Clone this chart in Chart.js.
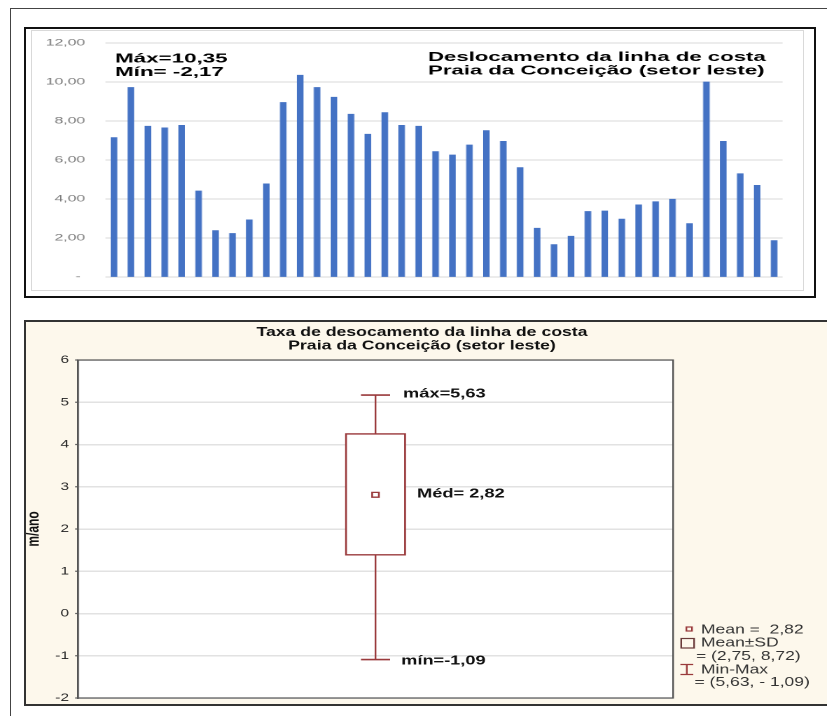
<!DOCTYPE html>
<html>
<head>
<meta charset="utf-8">
<script src="https://cdn.jsdelivr.net/npm/chart.js@4.4.1/dist/chart.umd.min.js"></script>
<style>
  html, body { margin:0; padding:0; }
  body { width:827px; height:716px; overflow:hidden; background:#fff; position:relative; font-family:"Liberation Sans", Arial, sans-serif; }
  #outer { position:absolute; left:10px; top:8px; width:840px; height:730px; border-left:1.6px solid #444; border-top:1.6px solid #444; }
  #topFrame { position:absolute; left:24px; top:27px; width:788px; height:267px; border:2.3px solid #111; background:#fff; }
  #topInner { position:absolute; left:31px; top:30px; width:771px; height:259px; border:1px solid #D9D9D9; background:#fff; }
  #c1 { position:absolute; left:32px; top:31px; transform:scaleX(1.7483); transform-origin:0 0; }
  #botFrame { position:absolute; left:24px; top:320px; width:830px; height:382px; border:2px solid #333; background:#FDF8EC; }
  #c2 { position:absolute; left:26px; top:322px; transform:scaleX(1.4003); transform-origin:0 0; }
</style>
</head>
<body>
<div id="outer"></div>
<div id="topFrame"></div>
<div id="topInner"></div>
<canvas id="c1" width="441" height="259"></canvas>
<div id="botFrame"></div>
<canvas id="c2" width="572" height="382"></canvas>
<script>
// ---------- Top chart data ----------
const profiles = ['1','2','3','4','5','6','7','8','9','10','11','12','13','14','15','16','17','18','19','20',
                  '21','22','23','24','25','26','27','28','29','30','31','32','33','34','35','36','37','38','39','40'];
const shorelineShift = [7.15, 9.72, 7.73, 7.65, 7.78, 4.41, 2.38, 2.23, 2.93, 4.78,
                        8.95, 10.35, 9.72, 9.22, 8.35, 7.32, 8.43, 7.78, 7.73, 6.43,
                        6.26, 6.77, 7.51, 6.96, 5.61, 2.50, 1.66, 2.09, 3.36, 3.39,
                        2.97, 3.70, 3.86, 3.99, 2.74, 10.00, 6.96, 5.30, 4.70, 1.87];
const topTickValues = [0, 2, 4, 6, 8, 10, 12];
const topTickLabels = ['- ', '2,00', '4,00', '6,00', '8,00', '10,00', '12,00'];
const topStatLines = ['Máx=10,35', 'Mín= -2,17'];
const topTitleLines = ['Deslocamento da linha de costa', 'Praia da Conceição (setor leste)'];

// ---------- Bottom chart data ----------
const boxCategory = ['Praia da Conceição (setor leste)'];
const boxMean = [2.81];
const boxSdRange = [1.38, 4.26];
const boxWhisker = [5.17, -1.09];
const bottomTickValues = [-2, -1, 0, 1, 2, 3, 4, 5, 6];
const bottomTickLabels = ['-2', '-1', '0', '1', '2', '3', '4', '5', '6'];
const bottomTitleLines = ['Taxa de desocamento da linha de costa', 'Praia da Conceição (setor leste)'];
const bottomYTitle = 'm/ano';
const boxAnnotations = ['máx=5,63', 'Méd= 2,82', 'mín=-1,09'];
const legendLines = ['Mean =  2,82', 'Mean±SD', '= (2,75, 8,72)', 'Min-Max', '= (5,63, - 1,09)'];

const FONT = '"Liberation Sans", Arial, sans-serif';
const RED = '#9A3A3C';

// ---------- Top chart ----------
const topTexts = {
  id: 'topTexts',
  afterDraw(chart) {
    const ctx = chart.ctx;
    ctx.save();
    ctx.fillStyle = '#000';
    ctx.textAlign = 'left';
    ctx.textBaseline = 'alphabetic';
    ctx.font = 'bold 12.8px ' + FONT;
    ctx.fillText(topStatLines[0], 47.5, 31.5);
    ctx.fillText(topStatLines[1], 47.5, 45);
    ctx.font = 'bold 12.7px ' + FONT;
    ctx.fillText(topTitleLines[0], 226.5, 29.9);
    ctx.fillText(topTitleLines[1], 226.5, 43.5);
    ctx.restore();
  }
};

new Chart(document.getElementById('c1'), {
  type: 'bar',
  data: {
    labels: profiles,
    datasets: [{
      data: shorelineShift,
      backgroundColor: '#4472C4',
      borderWidth: 0,
      barThickness: 3.1
    }]
  },
  options: {
    responsive: false,
    animation: false,
    devicePixelRatio: 2,
    layout: { autoPadding: false, padding: { left: 0, right: 11.7, top: 12, bottom: 13 } },
    plugins: { legend: { display: false }, tooltip: { enabled: false }, title: { display: false } },
    scales: {
      x: { display: false },
      y: {
        min: 0, max: 12,
        afterBuildTicks: (s) => { s.ticks = topTickValues.map(v => ({ value: v })); },
        afterFit: (s) => { s.width = 42.04; },
        ticks: {
          padding: 0,
          color: '#7a7a7a',
          font: { family: FONT, size: 9, lineHeight: 1 },
          callback: (v) => topTickLabels[topTickValues.indexOf(v)]
        },
        grid: { color: '#D9D9D9', lineWidth: 1, drawTicks: true, tickLength: 11.7, tickColor: 'rgba(0,0,0,0)' },
        border: { display: false }
      }
    }
  },
  plugins: [topTexts]
});

// ---------- Bottom chart ----------
const boxDecor = {
  id: 'boxDecor',
  beforeDraw(chart) {
    const { ctx, chartArea: a } = chart;
    ctx.save();
    ctx.fillStyle = '#fff';
    ctx.fillRect(a.left, a.top, a.right - a.left, a.bottom - a.top);
    ctx.restore();
  },
  afterDraw(chart) {
    const { ctx, chartArea: a } = chart;
    const ys = chart.scales.y;
    ctx.save();
    // small tick marks left of the axis
    ctx.strokeStyle = '#666';
    ctx.lineWidth = 1.2;
    ctx.beginPath();
    bottomTickValues.forEach(v => {
      const py = ys.getPixelForValue(v);
      ctx.moveTo(a.left - 2, py);
      ctx.lineTo(a.left, py);
    });
    ctx.stroke();
    // plot frame
    ctx.strokeStyle = '#555';
    ctx.lineWidth = 1.2;
    ctx.strokeRect(a.left, a.top, a.right - a.left, a.bottom - a.top);
    // titles
    ctx.fillStyle = '#111';
    ctx.textAlign = 'center';
    ctx.textBaseline = 'alphabetic';
    ctx.font = 'bold 12.6px ' + FONT;
    ctx.fillText(bottomTitleLines[0], 282.8, 14);
    ctx.fillText(bottomTitleLines[1], 282.8, 27.3);
    // y title
    ctx.save();
    ctx.translate(9.0, 207);
    ctx.rotate(-Math.PI / 2);
    ctx.font = 'bold 12px ' + FONT;
    ctx.textAlign = 'center';
    ctx.fillText(bottomYTitle, 0, 0);
    ctx.restore();
    // annotations
    ctx.textAlign = 'left';
    ctx.font = 'bold 13px ' + FONT;
    ctx.fillText(boxAnnotations[0], 269.3, 75.7);
    ctx.fillText(boxAnnotations[1], 279.3, 175.7);
    ctx.fillText(boxAnnotations[2], 267.9, 342.3);
    // legend
    ctx.font = '12.5px ' + FONT;
    ctx.fillStyle = '#333';
    ctx.fillText(legendLines[0], 482.0, 311.3);
    ctx.fillText(legendLines[1], 482.0, 324.7);
    ctx.fillText(legendLines[2], 478.5, 338);
    ctx.fillText(legendLines[3], 482.0, 351.3);
    ctx.fillText(legendLines[4], 477.4, 364);
    ctx.strokeStyle = RED;
    ctx.lineWidth = 1.2;
    ctx.strokeRect(471.6, 305, 4.0, 4.0);
    ctx.strokeStyle = '#6a3a3a';
    ctx.strokeRect(467.9, 316.5, 9.2, 9.5);
    ctx.strokeStyle = RED;
    ctx.beginPath();
    ctx.moveTo(471.9, 342.5); ctx.lineTo(471.9, 352.5);
    ctx.moveTo(467.3, 342.5); ctx.lineTo(476.5, 342.5);
    ctx.moveTo(467.3, 352.5); ctx.lineTo(476.5, 352.5);
    ctx.stroke();
    ctx.restore();
  }
};

new Chart(document.getElementById('c2'), {
  type: 'bar',
  data: {
    labels: boxCategory,
    datasets: [
      {
        type: 'line',
        data: [{ x: 0.5, y: boxWhisker[0] }, { x: 0.5, y: boxWhisker[1] }],
        borderColor: RED,
        borderWidth: 1.2,
        pointStyle: 'line',
        pointRadius: 10.4,
        pointBorderWidth: 1.7,
        pointBorderColor: RED,
        order: 3
      },
      {
        type: 'bar',
        data: [{ x: 0.5, y: boxSdRange }],
        backgroundColor: '#fff',
        borderColor: RED,
        borderWidth: 1.4,
        borderSkipped: false,
        barThickness: 43,
        order: 2
      },
      {
        type: 'scatter',
        data: [{ x: 0.5, y: boxMean[0] }],
        pointStyle: 'rect',
        pointRadius: 3.4,
        backgroundColor: '#fff',
        borderColor: RED,
        borderWidth: 1.3,
        order: 1
      }
    ]
  },
  options: {
    responsive: false,
    animation: false,
    devicePixelRatio: 2,
    layout: { autoPadding: false, padding: { left: 0, right: 109.9, top: 38, bottom: 6 } },
    plugins: { legend: { display: false }, tooltip: { enabled: false }, title: { display: false } },
    scales: {
      x: { type: 'linear', min: 0, max: 1, display: false },
      y: {
        min: -2, max: 6,
        afterBuildTicks: (s) => { s.ticks = bottomTickValues.map(v => ({ value: v })); },
        afterFit: (s) => { s.width = 37.1; },
        ticks: {
          padding: 0,
          color: '#222',
          font: { family: FONT, size: 11, lineHeight: 1 },
          callback: (v) => bottomTickLabels[bottomTickValues.indexOf(v)]
        },
        grid: { color: '#E2E2E2', lineWidth: 1.5, drawTicks: true, tickLength: 6.4, tickColor: 'rgba(0,0,0,0)' },
        border: { display: true, color: '#555', width: 1.2 }
      }
    }
  },
  plugins: [boxDecor]
});
</script>
</body>
</html>
